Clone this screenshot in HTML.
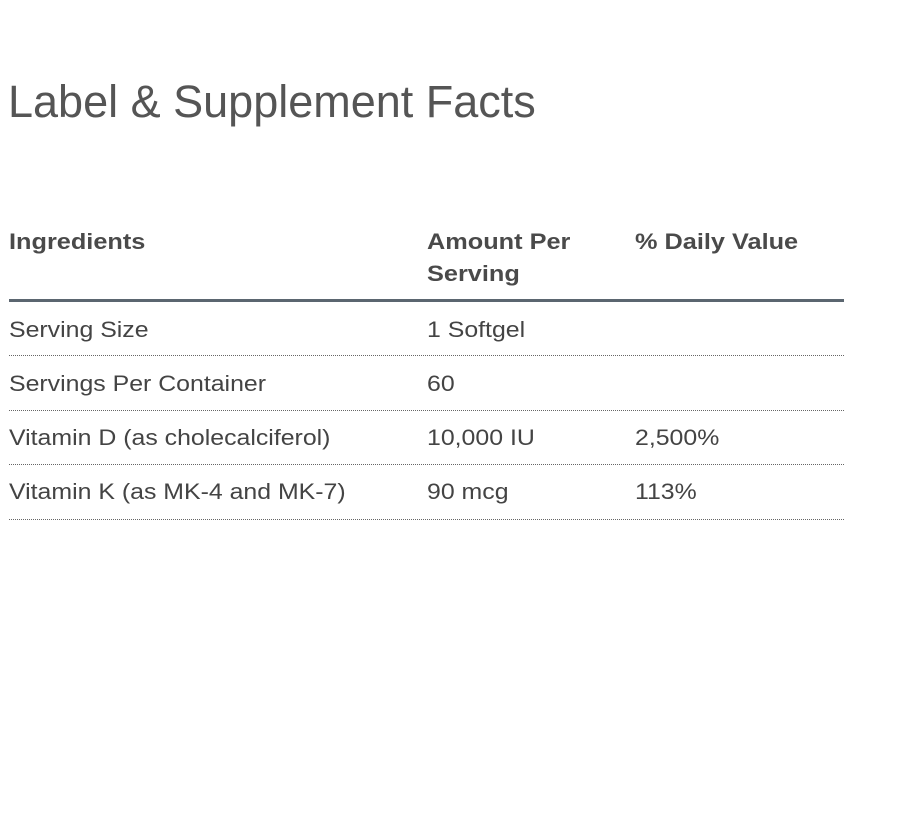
<!DOCTYPE html>
<html><head><style>
body{margin:0;width:900px;height:830px;background:#fff;font-family:"Liberation Sans",sans-serif;color:#444;position:relative;overflow:hidden}
h1{position:absolute;left:8px;top:76px;margin:0;font-weight:normal;font-size:45px;color:#555}
.t{position:absolute;font-size:22px;white-space:nowrap;transform:scaleX(1.13);transform-origin:left top}
.b{font-weight:bold;color:#4a4a4a;line-height:32px;transform:scaleX(1.15)}
.line{position:absolute;left:9px;width:835px;height:0}
.thick{top:299px;border-top:3px solid #5b6670}
.dot{border-top:1.5px dotted #666}
</style></head><body>
<h1>Label &amp; Supplement Facts</h1>
<div class="t b" style="left:9px;top:226px">Ingredients</div>
<div class="t b" style="left:427px;top:226px">Amount Per<br>Serving</div>
<div class="t b" style="left:635px;top:226px">% Daily Value</div>
<div class="line thick"></div>

<div class="t" style="left:9px;top:317px">Serving Size</div>
<div class="t" style="left:427px;top:317px">1 Softgel</div>
<div class="line dot" style="top:355px"></div>

<div class="t" style="left:9px;top:371px">Servings Per Container</div>
<div class="t" style="left:427px;top:371px">60</div>
<div class="line dot" style="top:410px"></div>

<div class="t" style="left:9px;top:425px">Vitamin D (as cholecalciferol)</div>
<div class="t" style="left:427px;top:425px">10,000 IU</div>
<div class="t" style="left:635px;top:425px">2,500%</div>
<div class="line dot" style="top:464px"></div>

<div class="t" style="left:9px;top:479px">Vitamin K (as MK-4 and MK-7)</div>
<div class="t" style="left:427px;top:479px">90 mcg</div>
<div class="t" style="left:635px;top:479px">113%</div>
<div class="line dot" style="top:519px"></div>
</body></html>
